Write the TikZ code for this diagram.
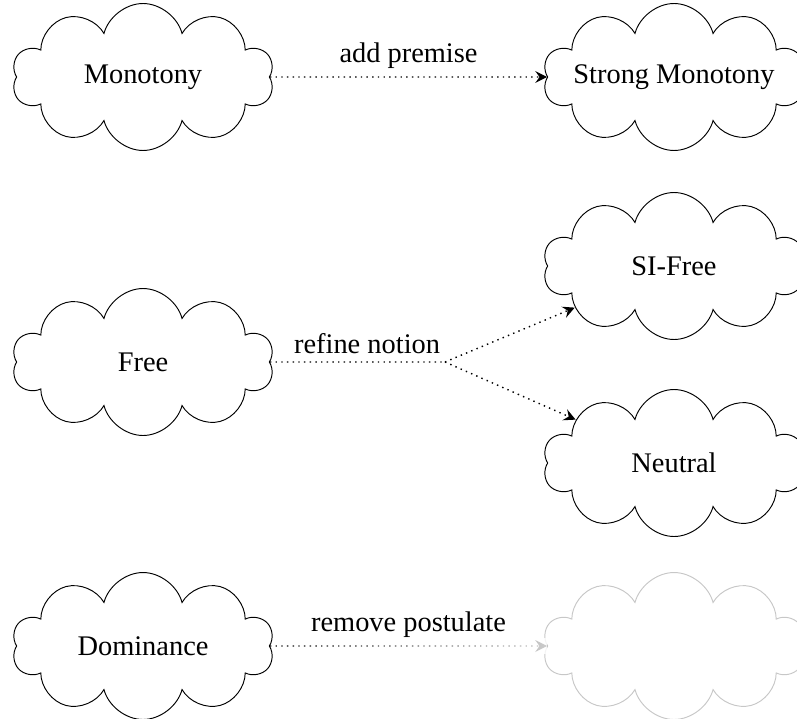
\documentclass[tikz,border=0pt]{standalone}
\usepackage{fontspec}
\setmainfont{Liberation Serif}
\usetikzlibrary{shapes.symbols, arrows.meta, fadings, calc}
\tikzfading[name=whiten, left color=transparent!100, right color=transparent!20]
\begin{document}
\begin{tikzpicture}[x=0.4225pt, y=-0.4225pt,
  font=\fontsize{12}{14}\selectfont,
  cl/.style={cloud, cloud puffs=10, cloud ignores aspect, draw, inner sep=0pt, minimum width=110.7pt, minimum height=62.1pt, line width=0.4pt},
  conn/.style={line width=0.6pt, dash pattern=on 0.6pt off 1.8pt, -{Stealth[length=5pt,width=5pt,inset=1.8pt]}},
  plain/.style={line width=0.6pt, dash pattern=on 0.6pt off 1.8pt}]
\useasboundingbox (0,0) rectangle (797,718);
\node[cl] (mono) at (143,77) {\makebox[0pt]{Monotony}};
\node[cl] (smono) at (674,77) {\makebox[0pt]{Strong Monotony}};
\node[cl] (free) at (143,362) {\makebox[0pt]{Free}};
\node[cl] (si) at (674,266) {\makebox[0pt]{SI-Free}};
\node[cl] (neu) at (674,463) {\makebox[0pt]{Neutral}};
\node[cl] (dom) at (143,646) {\makebox[0pt]{Dominance}};
\node[cl, draw=black!22] (gcl) at (674,646) {};
\draw[conn] (mono) -- node[above] {add premise} (smono);
\coordinate (br) at (445,362);
\draw[plain] (free) -- node[above, pos=0.555] {refine notion} (br);
\draw[conn] (br) -- (si);
\draw[conn] (br) -- (neu);
\draw[conn] (dom) -- node[above] {remove postulate} (gcl);
\fill[white, path fading=whiten] ($(dom.east)+(1,-8)$) rectangle ($(gcl.west)+(-0.6,8)$);
\end{tikzpicture}
\end{document}
